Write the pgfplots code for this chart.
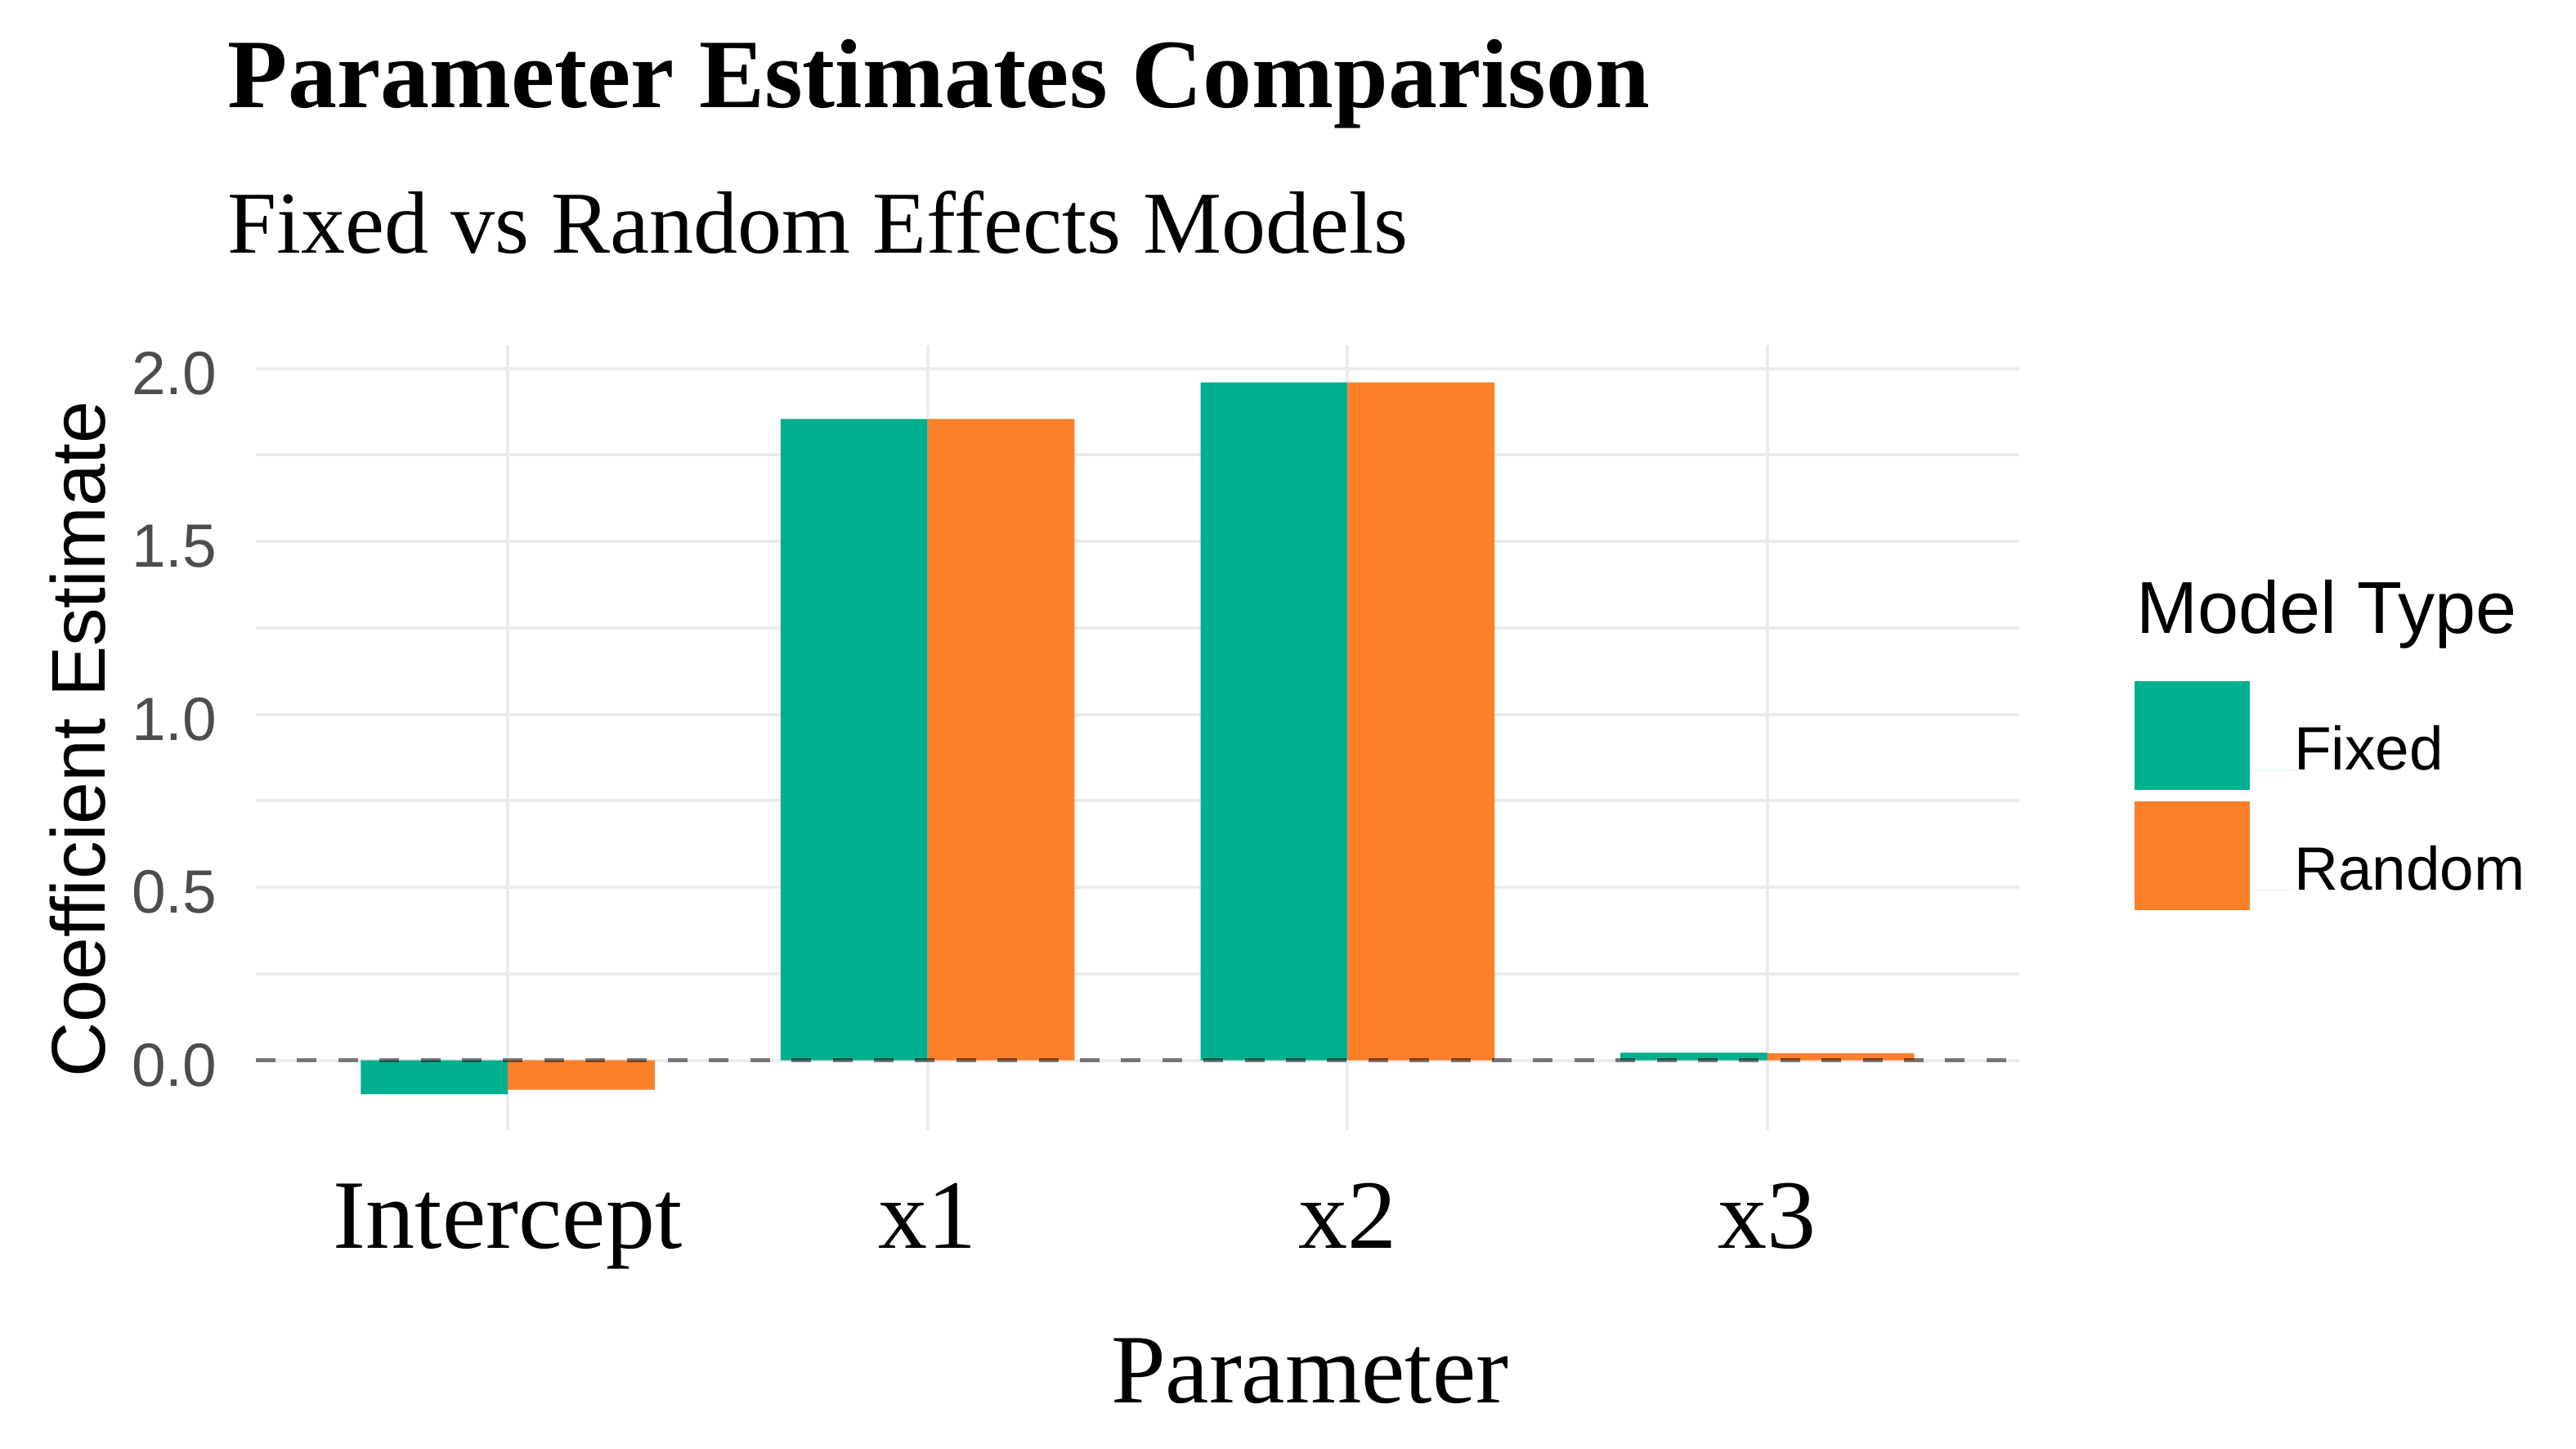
\documentclass[border=0pt]{standalone}
\usepackage{fontspec}
\setmainfont{Liberation Serif}
\setsansfont{Liberation Sans}
\usepackage{pgfplots}
\pgfplotsset{compat=1.18}

\definecolor{fixedc}{RGB}{0,175,143}
\definecolor{randomc}{RGB}{251,128,42}
\definecolor{gridc}{RGB}{235,235,235}
\definecolor{tickc}{RGB}{77,77,77}

\begin{document}
\begin{tikzpicture}
\useasboundingbox (-78.25pt,-97.4pt) rectangle (709.5pt,345.6pt);
\begin{axis}[
    at={(0,0)}, anchor=south west,
    scale only axis,
    width=539.25pt, height=240.2pt,
    xmin=0.4, xmax=4.6,
    ymin=-0.2028, ymax=2.0686,
    clip=false,
    axis line style={draw=none},
    major tick length=0pt, minor tick length=0pt,
    xtick={1,2,3,4},
    xticklabels={Intercept,x1,x2,x3},
    ytick={0,0.5,1,1.5,2},
    minor ytick={0.25,0.75,1.25,1.75},
    xmajorgrids, ymajorgrids, yminorgrids,
    major grid style={gridc, line width=1pt},
    minor grid style={gridc, line width=1pt},
    /pgf/number format/assume math mode=true,
    yticklabel={\pgfmathprintnumber[fixed,fixed zerofill,precision=1]{\tick}},
    yticklabel style={font=\sffamily\fontsize{18.7}{18.7}\selectfont, text=tickc,
        anchor=east, inner sep=0pt, xshift=-11.75pt, yshift=-1.5pt},
    xticklabel style={font=\fontsize{30}{30}\selectfont,
        anchor=base, inner sep=0pt, yshift=-36pt},
    legend style={at={(axis description cs:1.06537,0.5720)}, anchor=north west,
        draw=none, fill=none, inner sep=0pt, outer sep=0pt,
        row sep=3.55pt, column sep=0pt,
        cells={anchor=base west},
        nodes={inner sep=0pt},
        font=\sffamily\fontsize{18.7}{18.7}\selectfont},
  ]
  \addplot[ybar, bar width=0.35, bar shift=-0.175, fill=fixedc, draw=none,
      legend image code/.code={\fill[fixedc] (0pt,-6.1pt) rectangle (35.25pt,27.2pt);
                               \path (0pt,0pt) -- (48.75pt,0pt);}]
    coordinates {(1,-0.098) (2,1.854) (3,1.960) (4,0.022)};
  \addlegendentry{Fixed}
  \addplot[ybar, bar width=0.35, bar shift=0.175, fill=randomc, draw=none,
      legend image code/.code={\fill[randomc] (0pt,-6.1pt) rectangle (35.25pt,27.2pt);
                               \path (0pt,0pt) -- (48.75pt,0pt);}]
    coordinates {(1,-0.085) (2,1.854) (3,1.960) (4,0.020)};
  \addlegendentry{Random}
  % zero reference line
  \addplot[forget plot, black, opacity=0.5, line width=1.1pt,
      dash pattern=on 6pt off 6.6pt]
    coordinates {(0.4,0) (4.6,0)};
\end{axis}

\node[anchor=base west, inner sep=0pt, font=\bfseries\fontsize{30}{30}\selectfont]
  at (-8.75pt,312.7pt) {Parameter Estimates Comparison};
\node[anchor=base west, inner sep=0pt, font=\fontsize{27}{27}\selectfont]
  at (-8.75pt,268.15pt) {Fixed vs Random Effects Models};
\node[anchor=base, inner sep=0pt, font=\fontsize{30}{30}\selectfont]
  at (322.3pt,-83.35pt) {Parameter};
\node[rotate=90, anchor=base, inner sep=0pt, font=\sffamily\fontsize{23.3}{23.3}\selectfont]
  at (-46pt,119.65pt) {Coefficient Estimate};
\node[anchor=base west, inner sep=0pt, font=\sffamily\fontsize{22.5}{22.5}\selectfont]
  at (575pt,151.9pt) {Model Type};
\end{tikzpicture}
\end{document}
